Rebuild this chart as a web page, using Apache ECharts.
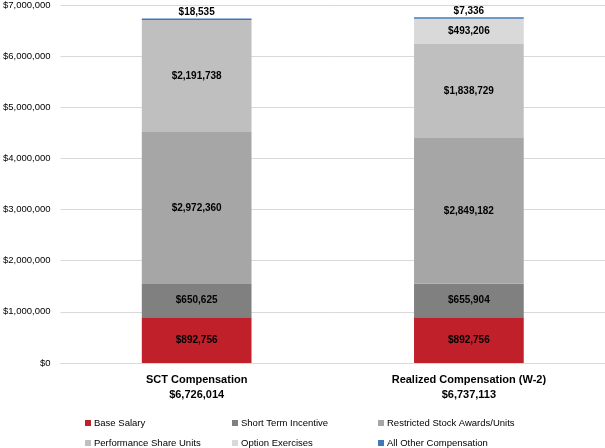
<!DOCTYPE html>
<html><head><meta charset="utf-8">
<script src="https://cdn.jsdelivr.net/npm/echarts@6/dist/echarts.min.js"></script>
<style>html,body{margin:0;padding:0;background:#fff}#c{width:605px;height:448px}</style>
</head><body><div id="c"></div>
<script>
var categories = ['SCT Compensation\n$6,726,014', 'Realized Compensation (W-2)\n$6,737,113'];
var seriesNames = ['Base Salary', 'Short Term Incentive', 'Restricted Stock Awards/Units', 'Performance Share Units', 'Option Exercises', 'All Other Compensation'];
var baseSalary = [892756, 892756];
var shortTerm = [650625, 655904];
var restricted = [2972360, 2849182];
var performance = [2191738, 1838729];
var options = [0, 493206];
var allOther = [18535, 7336];
var yTicks = [0, 7000000, 1000000];
var colors = ['#C0202A', '#808080', '#A6A6A6', '#C0BFC0', '#D9D9D9', '#3F78B8'];

function fmt(v){ return '$' + Math.round(v).toLocaleString('en-US'); }
var values = [baseSalary, shortTerm, restricted, performance, options, allOther];

var chart = echarts.init(document.getElementById('c'), null, {renderer:'canvas'});
var series = values.map(function(arr, i){
  return {
    name: seriesNames[i], type: 'bar', stack: 'a', barWidth: '40.3%',
    barMinHeight: i === 5 ? 1.5 : 0,
    itemStyle: {color: colors[i]},
    data: arr.map(function(v){ return v === 0 ? null : v; }),
    label: {
      show: true,
      position: i === 5 ? 'top' : 'inside',
      distance: 1,
      formatter: function(p){ return fmt(p.value); },
      color: '#000', fontWeight: 'bold', fontSize: 10, fontFamily: 'Liberation Sans, Arial'
    }
  };
});
var legendPos = [[85, 417], [232, 417], [378, 417], [85, 437], [232, 437], [378, 437]];
var legends = seriesNames.map(function(n, i){
  return {
    left: legendPos[i][0], top: legendPos[i][1], itemWidth: 6, itemHeight: 6, padding: 0,
    icon: 'rect', data: [n],
    textStyle: {fontSize: 9.5, lineHeight: 12, color: '#000', fontFamily: 'Liberation Sans, Arial', padding:[0,0,0,-2]}
  };
});
chart.setOption({
  animation: false,
  textStyle: {fontFamily: 'Liberation Sans, Arial'},
  legend: legends,
  grid: {left: 60, right: 0, top: 5, bottom: 85, containLabel: false},
  xAxis: {
    type: 'category', data: categories,
    axisTick: {show: false},
    axisLine: {lineStyle: {color: '#D9D9D9'}},
    axisLabel: {fontWeight: 'bold', fontSize: 11, color: '#000', lineHeight: 15, margin: 9}
  },
  yAxis: {
    type: 'value', min: yTicks[0], max: yTicks[1], interval: yTicks[2],
    splitLine: {lineStyle: {color: '#D9D9D9'}},
    axisLabel: {formatter: fmt, fontSize: 9.5, color: '#000', margin: 10}
  },
  series: series
});
</script></body></html>
